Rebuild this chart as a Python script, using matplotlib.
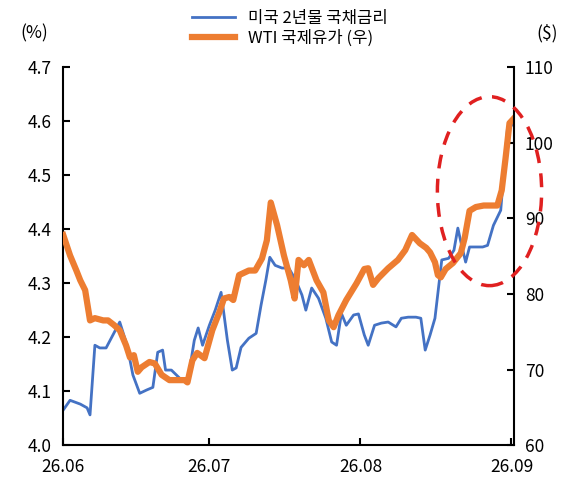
import matplotlib
matplotlib.use("Agg")
import matplotlib.pyplot as plt
from matplotlib.patches import Ellipse

plt.rcParams['font.family'] = ['Noto Sans CJK KR', 'DejaVu Sans']

# days since 26.06 (1 Jun) , value
US2Y = [(0, 4.065), (1.4, 4.083), (3.5, 4.076), (4.9, 4.069), (5.5, 4.056), (6.5, 4.185),
        (7.5, 4.180), (8.8, 4.180), (10.2, 4.204), (11.6, 4.228), (13.1, 4.185), (14.3, 4.130),
        (15.7, 4.096), (17.1, 4.102), (18.4, 4.107), (19.4, 4.172), (20.4, 4.176), (21, 4.139),
        (22.2, 4.139), (23.9, 4.124), (25.5, 4.115), (26.9, 4.194), (27.7, 4.217), (28.6, 4.185),
        (30, 4.222), (31.2, 4.250), (32.4, 4.283), (33.7, 4.194), (34.7, 4.139), (35.5, 4.143),
        (36.5, 4.181), (38.1, 4.198), (39.6, 4.207), (40.6, 4.259), (41.6, 4.306), (42.4, 4.348),
        (43.5, 4.333), (44.9, 4.328), (46.3, 4.328), (47.7, 4.306), (49, 4.278), (49.8, 4.250),
        (51, 4.291), (52.4, 4.272), (53.9, 4.235), (55.1, 4.191), (56.1, 4.185), (57.1, 4.244),
        (58.1, 4.222), (59.6, 4.241), (60.6, 4.243), (61.8, 4.204), (62.6, 4.185), (63.9, 4.222),
        (65.3, 4.226), (66.7, 4.228), (68.3, 4.219), (69.4, 4.235), (70.8, 4.237), (72.4, 4.237),
        (73.4, 4.235), (74.3, 4.176), (75.3, 4.204), (76.3, 4.235), (77.7, 4.343), (79.1, 4.346),
        (80.2, 4.361), (81, 4.402), (81.8, 4.369), (82.6, 4.339), (83.4, 4.367), (84.7, 4.367),
        (86.1, 4.367), (87.1, 4.370), (88.3, 4.407), (89.8, 4.435), (91.2, 4.589), (92.2, 4.593)]

WTI = [(0, 87.8), (1.4, 85.1), (2.7, 83.1), (3.5, 81.8), (4.5, 80.5), (5.5, 76.5), (6.5, 76.8),
       (8.2, 76.5), (9.2, 76.5), (10.4, 75.9), (11.6, 75.2), (12.9, 73.2), (13.7, 71.6),
       (14.5, 71.9), (15.3, 69.7), (16.1, 70.3), (17.7, 71.0), (18.8, 70.8), (20.2, 69.3),
       (21.8, 68.6), (23.5, 68.6), (24.9, 68.6), (25.5, 68.3), (26.5, 71.2), (27.5, 72.2),
       (29, 71.5), (30.6, 75.2), (32, 77.5), (33, 79.4), (34.1, 79.6), (34.9, 79.2), (36.1, 82.5),
       (38.1, 83.1), (39.4, 83.1), (40.8, 84.7), (41.8, 87.1), (42.6, 92.1), (43.9, 89.1),
       (45.3, 85.1), (46.7, 81.8), (47.5, 79.4), (48.3, 84.5), (49.4, 83.8), (50.4, 84.5),
       (52, 81.8), (53.4, 80.2), (54.5, 76.5), (55.5, 75.6), (56.5, 77.2), (58.1, 79.2),
       (60.2, 81.4), (61.8, 83.3), (62.6, 83.4), (63.6, 81.2), (64.7, 82.1), (66.7, 83.4),
       (68.7, 84.5), (70.2, 85.8), (71.6, 87.8), (73.2, 86.7), (74.5, 86.1), (75.3, 85.5),
       (76.3, 84.2), (76.9, 82.5), (77.5, 82.2), (78.5, 83.3), (80, 84.1), (81.6, 85.4),
       (82.4, 87.4), (83.4, 91.0), (84.7, 91.5), (86.3, 91.7), (87.9, 91.7), (89.1, 91.7),
       (90, 93.7), (90.8, 98.0), (91.6, 102.6), (92.6, 103.3)]

TICK_DAYS = [0, 30, 61, 92]
TICK_LABELS = ["26.06", "26.07", "26.08", "26.09"]

BLUE = "#4472C4"
ORANGE = "#ED7D31"

fig = plt.figure(figsize=(5.8, 4.87), dpi=100, facecolor="white")
ax = fig.add_axes([0.109, 0.086, 0.777, 0.776])
ax2 = ax.twinx()

bx, by = zip(*US2Y)
ox, oy = zip(*WTI)
l1, = ax.plot(bx, by, color=BLUE, lw=2, label="미국 2년물 국채금리")
l2, = ax2.plot(ox, oy, color=ORANGE, lw=4.5, label="WTI 국제유가 (우)")

ax.set_xlim(0, 92.5)
ax.set_ylim(4.0, 4.7)
ax2.set_ylim(60, 110)
ax.set_yticks([4.0 + 0.1 * i for i in range(8)])
ax.set_yticklabels([f"{4.0 + 0.1 * i:.1f}" for i in range(8)])
ax2.set_yticks(range(60, 111, 10))
ax.set_xticks(TICK_DAYS)
ax.set_xticklabels(TICK_LABELS)

for a in (ax, ax2):
    for s in a.spines.values():
        s.set_visible(False)
    a.tick_params(direction="in", labelsize=12.5, length=5, width=1.5)
ax.spines["left"].set_visible(True)
ax.spines["left"].set_linewidth(1.5)
ax.spines["bottom"].set_visible(True)
ax.spines["bottom"].set_linewidth(1.5)
ax2.spines["right"].set_visible(True)
ax2.spines["right"].set_linewidth(1.5)
ax.tick_params(axis="y", pad=8)
ax.tick_params(axis="x", pad=9)
ax2.tick_params(axis="y", pad=8)

ax2.add_patch(Ellipse((87.5, 93.6), 21.4, 25.0, fill=False, ec="#E02020",
                      lw=2.5, ls=(0, (4, 3)), clip_on=False, zorder=5))

fig.text(0.035, 0.92, "(%)", fontsize=12.5)
fig.text(0.925, 0.92, "($)", fontsize=12.5)
fig.legend(handles=[l1, l2], loc="upper center", bbox_to_anchor=(0.5, 1.01),
           frameon=False, fontsize=12, handlelength=2.6, labelspacing=0.15)

fig.savefig("out.png", dpi=100, facecolor="white")
